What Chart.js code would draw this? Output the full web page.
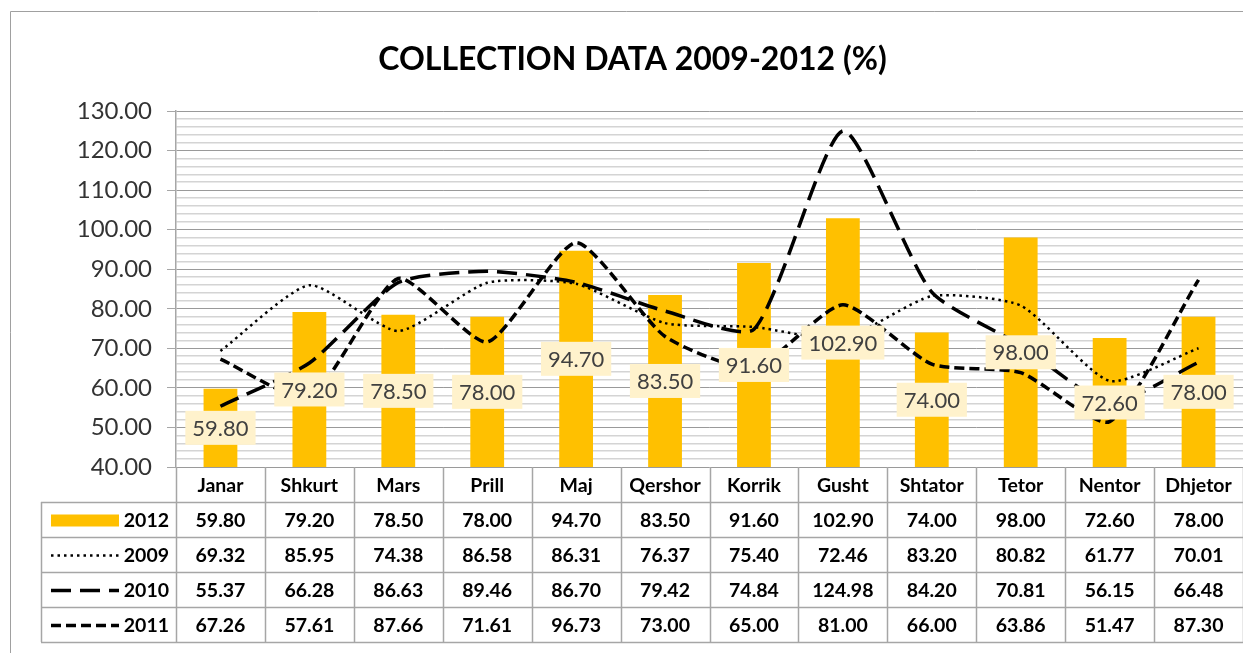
<!DOCTYPE html>
<html>
<head>
<meta charset="utf-8">
<title>Collection data 2009-2012</title>
<script src="https://cdn.jsdelivr.net/npm/chart.js@4/dist/chart.umd.min.js"></script>
<style>
    html, body { margin: 0; padding: 0; background: #ffffff; }
    #wrap { width: 1243px; height: 653px; position: relative; }
</style>
</head>
<body>
<div id="wrap"><canvas id="chart"></canvas></div>
<script>
const categories = ["Janar", "Shkurt", "Mars", "Prill", "Maj", "Qershor", "Korrik", "Gusht", "Shtator", "Tetor", "Nentor", "Dhjetor"];
const values2012 = [59.80, 79.20, 78.50, 78.00, 94.70, 83.50, 91.60, 102.90, 74.00, 98.00, 72.60, 78.00];
const values2009 = [69.32, 85.95, 74.38, 86.58, 86.31, 76.37, 75.40, 72.46, 83.20, 80.82, 61.77, 70.01];
const values2010 = [55.37, 66.28, 86.63, 89.46, 86.70, 79.42, 74.84, 124.98, 84.20, 70.81, 56.15, 66.48];
const values2011 = [67.26, 57.61, 87.66, 71.61, 96.73, 73.00, 65.00, 81.00, 66.00, 63.86, 51.47, 87.30];
const yMin = 40;
const yMax = 130;
const yMajorStep = 10;
const yMinorStep = 2;

const gridColor = "#a6a6a6";
const fontFamily = "Lato, 'Open Sans', sans-serif";

// table rows below the plot, in the order shown
const tableRows = [
    { label: "2012", values: values2012, key: "bar" },
    { label: "2009", values: values2009, key: "line", dash: [2.5, 4], width: 2.5 },
    { label: "2010", values: values2010, key: "line", dash: [20, 9], width: 3.5 },
    { label: "2011", values: values2011, key: "line", dash: [10, 5], width: 3.5 }
];

const isMajor = (v) => Math.abs(v % yMajorStep) < 1e-6;

const framePlugin = {
    id: "frame",
    beforeDraw(chart) {
        const { ctx } = chart;
        ctx.save();
        ctx.strokeStyle = "#a0a0a0";
        ctx.lineWidth = 1;
        ctx.beginPath();
        ctx.moveTo(10.5, chart.height);
        ctx.lineTo(10.5, 11.5);
        ctx.lineTo(chart.width, 11.5);
        ctx.stroke();
        ctx.restore();
    }
};

const barLabelPlugin = {
    id: "barLabels",
    afterDatasetsDraw(chart) {
        const { ctx } = chart;
        const meta = chart.getDatasetMeta(0);
        const yScale = chart.scales.y;
        ctx.save();
        ctx.font = `22px ${fontFamily}`;
        ctx.textAlign = "center";
        ctx.textBaseline = "middle";
        meta.data.forEach((bar, i) => {
            const text = values2012[i].toFixed(2);
            const cy = (yScale.getPixelForValue(values2012[i]) + yScale.getPixelForValue(yMin)) / 2;
            const w = ctx.measureText(text).width + 14;
            const h = 34;
            ctx.fillStyle = "#fff2cc";
            ctx.fillRect(bar.x - w / 2, cy - h / 2, w, h);
            ctx.fillStyle = "#404040";
            ctx.fillText(text, bar.x, cy + 1);
        });
        ctx.restore();
    }
};

const dataTablePlugin = {
    id: "dataTable",
    afterDraw(chart) {
        const { ctx, chartArea } = chart;
        const xScale = chart.scales.x;
        const colW = (chartArea.right - chartArea.left) / categories.length;
        const rowH = 35;
        const top = chartArea.bottom;
        const tableLeft = 41;
        const legendRight = chartArea.left;
        const bottom = top + rowH * (tableRows.length + 1);

        ctx.save();
        ctx.strokeStyle = gridColor;
        ctx.lineWidth = 1.5;
        ctx.beginPath();
        // vertical lines of the category columns
        for (let i = 0; i <= categories.length; i++) {
            const x = Math.round(chartArea.left + i * colW) + 0.5;
            ctx.moveTo(x, top);
            ctx.lineTo(x, bottom);
        }
        ctx.moveTo(tableLeft + 0.5, top + rowH);
        ctx.lineTo(tableLeft + 0.5, bottom);
        // horizontal lines
        for (let r = 1; r <= tableRows.length + 1; r++) {
            const y = Math.round(top + r * rowH) + 0.5;
            ctx.moveTo(tableLeft, y);
            ctx.lineTo(chartArea.right, y);
        }
        ctx.stroke();

        ctx.fillStyle = "#000000";
        ctx.font = `bold 19.5px ${fontFamily}`;
        ctx.textAlign = "center";
        ctx.textBaseline = "middle";
        categories.forEach((c, i) => {
            ctx.fillText(c, xScale.getPixelForValue(i), top + rowH / 2 + 1);
        });

        tableRows.forEach((row, r) => {
            const cy = top + rowH * (r + 1) + rowH / 2 + 1;
            ctx.textAlign = "center";
            row.values.forEach((v, i) => {
                ctx.fillText(v.toFixed(2), xScale.getPixelForValue(i), cy);
            });
            ctx.textAlign = "right";
            ctx.fillText(row.label, legendRight - 7, cy);

            if (row.key === "bar") {
                ctx.fillStyle = "#ffc000";
                ctx.fillRect(tableLeft + 10, cy - 6, 68, 12);
                ctx.fillStyle = "#000000";
            } else {
                ctx.strokeStyle = "#000000";
                ctx.lineWidth = row.width;
                ctx.setLineDash(row.dash);
                ctx.beginPath();
                ctx.moveTo(tableLeft + 10, cy);
                ctx.lineTo(tableLeft + 78, cy);
                ctx.stroke();
                ctx.setLineDash([]);
            }
        });
        ctx.restore();
    }
};

const lineDataset = (label, data, dash, width) => ({
    type: "line",
    label,
    data,
    borderColor: "#000000",
    borderWidth: width,
    borderDash: dash,
    pointRadius: 0,
    fill: false,
    tension: 0.2,
    order: 0
});

new Chart(document.getElementById("chart"), {
    data: {
        labels: categories,
        datasets: [
            {
                type: "bar",
                label: "2012",
                data: values2012,
                backgroundColor: "#ffc000",
                categoryPercentage: 1,
                barPercentage: 0.38,
                order: 1
            },
            lineDataset("2009", values2009, tableRows[1].dash, tableRows[1].width),
            lineDataset("2010", values2010, tableRows[2].dash, tableRows[2].width),
            lineDataset("2011", values2011, tableRows[3].dash, tableRows[3].width)
        ]
    },
    options: {
        responsive: true,
        maintainAspectRatio: false,
        animation: false,
        layout: {
            padding: { top: 0, right: 0, bottom: 178, left: 22 }
        },
        plugins: {
            legend: { display: false },
            tooltip: { enabled: false },
            title: {
                display: true,
                text: "COLLECTION DATA 2009-2012 (%)",
                color: "#000000",
                font: { family: fontFamily, size: 32, weight: "bold" },
                padding: { top: 40, bottom: 32.6 }
            }
        },
        scales: {
            x: {
                offset: true,
                grid: { display: false },
                border: { display: false },
                ticks: { display: false }
            },
            y: {
                min: yMin,
                max: yMax,
                afterFit: (scale) => { scale.width = 154; },
                border: { color: gridColor, width: 1.5 },
                grid: {
                    color: (c) => isMajor(c.tick.value) ? "#9a9a9a" : "#d4d4d4",
                    lineWidth: (c) => isMajor(c.tick.value) ? 1 : 1.5,
                    tickColor: (c) => isMajor(c.tick.value) ? gridColor : "rgba(0,0,0,0)",
                    tickLength: 9
                },
                ticks: {
                    stepSize: yMinorStep,
                    autoSkip: false,
                    padding: 15,
                    color: "#333333",
                    font: { family: fontFamily, size: 24 },
                    callback: (v) => isMajor(v) ? v.toFixed(2) : ""
                }
            }
        }
    },
    plugins: [framePlugin, barLabelPlugin, dataTablePlugin]
});
</script>
</body>
</html>
